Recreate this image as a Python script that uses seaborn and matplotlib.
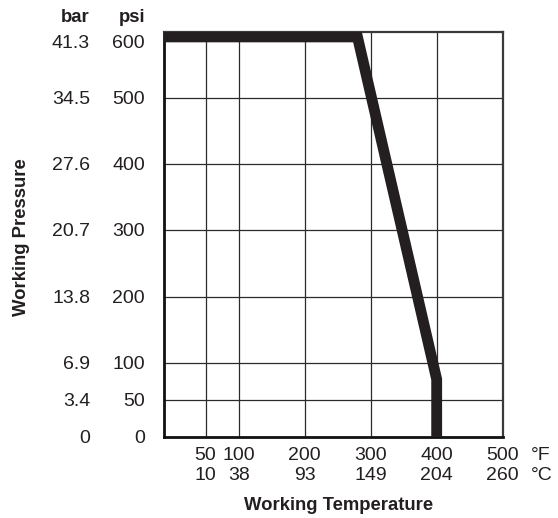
import numpy as np
import pandas as pd
import matplotlib
matplotlib.use("Agg")
import matplotlib.pyplot as plt
import matplotlib.transforms as mtransforms
import seaborn as sns

# ---------------- data ----------------
psi_ticks = [0, 50, 100, 200, 300, 400, 500, 600]
bar_labels = ["0", "3.4", "6.9", "13.8", "20.7", "27.6", "34.5", "41.3"]
temp_f_ticks = [50, 100, 200, 300, 400, 500]
temp_c_labels = ["10", "38", "93", "149", "204", "260"]
rating_temp_f = [-20, 280, 400, 400]
rating_psi = [600, 600, 85, 0]

x_title = "Working Temperature"
y_title = "Working Pressure"

# ---------------- style ----------------
sns.set_theme(style="white")
plt.rcParams["font.family"] = ["Liberation Sans Narrow", "Liberation Sans", "DejaVu Sans"]
INK = "#231f20"
FS = 14
FS_T = 13.3

W, H, DPI = 558, 518, 100
fig = plt.figure(figsize=(W / DPI, H / DPI), dpi=DPI)
left_px, right_px, top_px, bot_px = 164, 502.7, 31.5, 436.7
ax = fig.add_axes([left_px / W, 1 - bot_px / H,
                   (right_px - left_px) / W, (bot_px - top_px) / H])

# low-pressure band (0-100 psi) is drawn stretched, as in the original
K = 1.115
def fwd(p):
    p = np.asarray(p, dtype=float)
    return np.where(p <= 100, p * K, 100 * K + (p - 100))
def inv(u):
    u = np.asarray(u, dtype=float)
    return np.where(u <= 100 * K, u / K, u - 100 * K + 100)

ax.set_yscale("function", functions=(fwd, inv))
ax.set_ylim(0, 600)
ax.set_xlim(-13, 500)

# grid
for t in temp_f_ticks[:-1]:
    ax.axvline(t, color="#2b2b2b", lw=0.9, zorder=1)
for p in psi_ticks[1:-1]:
    ax.axhline(p, color="#2b2b2b", lw=0.9, zorder=1)

# rating curve
df = pd.DataFrame({"temp": rating_temp_f, "psi": rating_psi})
LW = 7.8
sns.lineplot(data=df, x="temp", y="psi", ax=ax, sort=False, estimator=None,
             color=INK, linewidth=LW, zorder=3)
line = ax.lines[-1]
line.set_solid_joinstyle("miter")
line.set_solid_capstyle("butt")
line.set_transform(ax.transData + mtransforms.ScaledTranslation(
    0, -LW / 2 / 72, fig.dpi_scale_trans))

# spines
for s in ["left", "bottom"]:
    ax.spines[s].set_color("#111111")
    ax.spines[s].set_linewidth(2.0)
for s in ["top", "right"]:
    ax.spines[s].set_color("#3a3a3a")
    ax.spines[s].set_linewidth(1.6)
ax.set_xticks([])
ax.set_yticks([])
ax.set_xlabel("")
ax.set_ylabel("")
ax.minorticks_off()

# y tick labels (two columns: bar and psi)
ty = mtransforms.blended_transform_factory(fig.transFigure, ax.transData)
down = mtransforms.ScaledTranslation(0, -1.5 / DPI, fig.dpi_scale_trans)
down_top = mtransforms.ScaledTranslation(0, -3.5 / DPI, fig.dpi_scale_trans)
for p, b in zip(psi_ticks, bar_labels):
    if p == max(psi_ticks):
        tr, va = ty + down_top, "top"
    else:
        tr, va = ty + down, "center"
    ax.text(145 / W, p, str(p), transform=tr, ha="right", va=va,
            fontsize=FS, color=INK, clip_on=False)
    ax.text(90 / W, p, b, transform=tr, ha="right", va=va,
            fontsize=FS, color=INK, clip_on=False)
fig.text(90 / W, 1 - 17 / H, "bar", ha="right", va="center",
         fontsize=FS_T, fontweight="bold", color=INK)
fig.text(145 / W, 1 - 17 / H, "psi", ha="right", va="center",
         fontsize=FS_T, fontweight="bold", color=INK)

# x tick labels (two rows: °F and °C)
tx = mtransforms.blended_transform_factory(ax.transData, fig.transFigure)
for t, c in zip(temp_f_ticks, temp_c_labels):
    ax.text(t, 1 - 455 / H, str(t), transform=tx, ha="center", va="center",
            fontsize=FS, color=INK, clip_on=False)
    ax.text(t, 1 - 476 / H, c, transform=tx, ha="center", va="center",
            fontsize=FS, color=INK, clip_on=False)
fig.text(531 / W, 1 - 455 / H, "°F", ha="left", va="center", fontsize=FS, color=INK)
fig.text(531 / W, 1 - 476 / H, "°C", ha="left", va="center", fontsize=FS, color=INK)

# axis titles
fig.text(338.5 / W, 1 - 506 / H, x_title, ha="center", va="center",
         fontsize=FS_T, fontweight="bold", color=INK)
fig.text(22 / W, 1 - 237.5 / H, y_title, ha="center", va="center", rotation=90,
         fontsize=FS_T, fontweight="bold", color=INK)

fig.savefig("out.png", dpi=DPI, facecolor="white")
